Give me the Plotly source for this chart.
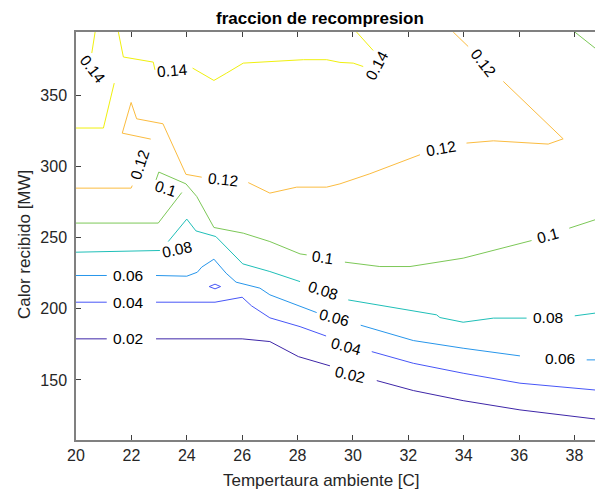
import plotly.graph_objects as go

# Contour levels
levels = [0.02, 0.04, 0.06, 0.08, 0.10, 0.12, 0.14]
level_colors = ["#3e26a8", "#4756f7", "#2796eb", "#1fbfb8", "#7cc857", "#fbbc40", "#f0f00e"]

# Contour line vertices (Tempertaura ambiente [C], Calor recibido [MW]); None = label gap
x_002 = [20, 21.11, None, 22.89, 26.0, 27.0, 28.03, 29.17, None, 30.86, 32.18, 33.98, 36.03, 38.74]
y_002 = [178.9, 178.9, None, 178.9, 178.9, 177.0, 166.4, 159.9, None, 149.5, 142.5, 135.4, 128.9, 122.5]

x_004 = [20, 21.11, None, 22.89, 25.02, 26.0, 26.34, 27.0, 28.09, 29.03, None, 30.68, 32.18, 33.98, 36.03, 38.74]
y_004 = [204.7, 204.7, None, 204.7, 204.7, 208.2, 202.1, 193.7, 187.5, 180.9, None, 169.9, 161.7, 154.7, 147.7, 142.9]

x_004b = [24.81, 25.02, 25.22, 25.02, 24.81]
y_004b = [215.7, 217.4, 215.7, 214.1, 215.7]

x_006 = [20, 21.11, None, 22.89, 24.0, 24.38, 24.54, 24.98, 25.42, 25.78, 26.64, 27.0, 28.09, 28.69,
         None, 30.28, 32.18, 33.98, 36.03, None, 38.44, 38.74]
y_006 = [223.5, 223.5, None, 223.5, 223.0, 225.8, 229.4, 235.0, 225.1, 218.8, 214.6, 209.9, 202.1, 197.4,
         None, 188.5, 177.7, 172.3, 166.9, None, 164.1, 164.1]

x_008 = [20, 22.01, 23.03, None, 23.33, 24.0, 24.33, 25.05, 26.02, 27.0, 28.09, None, 29.83, 33.02,
         33.14, 33.98, 35.07, 36.27, None, 38.01, 38.74]
y_008 = [239.9, 240.8, 241.1, None, 247.4, 263.2, 254.9, 250.9, 231.7, 226.3, 219.2, None, 206.3, 195.8,
         193.9, 190.6, 193.5, 193.5, None, 195.1, 197.0]

x_010 = [20, 22.97, 23.82, None, 22.89, 22.99, 23.97, 24.36, 24.98, 26.04, 27.0, 28.09, 28.33, None,
         29.71, 30.97, 32.06, 33.98, 36.45, None, 37.81, 38.74]
y_010 = [260.4, 260.4, 281.9, None, 290.8, 296.3, 288.0, 279.1, 257.3, 253.3, 247.4, 238.7, 238.0, None,
         232.9, 229.8, 229.8, 235.7, 248.1, None, 256.8, 262.7]

x_010b = [38.01, 38.74]
y_010b = [394.9, 383.6]

x_012 = [20, 21.99, 22.03, None, 22.70, 21.67, 21.99, 22.19, 23.14, 23.97, 24.54, None, 26.22, 27.0,
         27.97, 29.05, 29.53, 30.61, 32.42, None, 34.1, 35.07, 37.05, 37.59, 35.43, None, 34.16, 33.62]
y_012 = [285.0, 285.0, 286.8, None, 319.5, 323.7, 345.3, 333.8, 330.3, 294.7, 292.7, None, 288.9, 281.5,
         285.7, 285.7, 288.0, 295.1, 308.5, None, 316.7, 318.3, 316.0, 319.7, 360.1, None, 384.7, 394.9]

x_014a = [20.69, 20.57, None, 21.38, 20.99, 20]
y_014a = [394.9, 380.1, None, 358.9, 327.3, 327.3]

x_014b = [21.53, 21.71, 22.79, 22.85, None, 24.21, 24.98, 25.44, 26.04, 28.21, 29.05, 29.53, 30.01,
          30.37, None, 30.73, 30.13]
y_014b = [394.9, 377.3, 373.7, 368.3, None, 369.5, 360.8, 366.0, 373.0, 375.4, 375.4, 373.5, 373.0,
          370.6, None, 381.9, 394.9]

# Contour labels: text, x, y, angle
label_text = ["0.14", "0.14", "0.14", "0.12", "0.12", "0.12", "0.12",
              "0.1", "0.1", "0.1", "0.08", "0.08", "0.08",
              "0.06", "0.06", "0.06", "0.04", "0.04", "0.02", "0.02"]
label_x = [20.61, 23.48, 30.87, 34.69, 22.31, 25.31, 33.18,
           23.24, 28.93, 37.05, 23.64, 28.93, 37.05,
           21.89, 29.31, 37.47, 21.89, 29.77, 21.89, 29.89]
label_y = [368.3, 367.6, 371.1, 373.2, 301.4, 290.8, 312.7,
           285.0, 236.3, 251.5, 241.5, 212.8, 194.0,
           223.2, 193.7, 165.3, 204.2, 173.5, 178.9, 154.1]
label_angle = [52, -5, -62, 52, -72, 6, -10,
               18, 8, -15, -12, 18, 0,
               0, 15, 0, 0, 15, 0, 13]

x_ticks = [20, 22, 24, 26, 28, 30, 32, 34, 36, 38]
y_ticks = [150, 200, 250, 300, 350]

FONT = "Liberation Sans, Arial, sans-serif"

series = [
    (x_002, y_002, 0), (x_004, y_004, 1), (x_004b, y_004b, 1), (x_006, y_006, 2),
    (x_008, y_008, 3), (x_010, y_010, 4), (x_010b, y_010b, 4), (x_012, y_012, 5),
    (x_014a, y_014a, 6), (x_014b, y_014b, 6),
]

fig = go.Figure()
for xs, ys, li in series:
    fig.add_trace(go.Scatter(x=xs, y=ys, mode="lines", connectgaps=False,
                             line=dict(color=level_colors[li], width=1),
                             showlegend=False, hoverinfo="skip"))

for t, lx, ly, ang in zip(label_text, label_x, label_y, label_angle):
    fig.add_annotation(x=lx, y=ly, text=t, showarrow=False, textangle=ang,
                       font=dict(family=FONT, size=15.5, color="#000000"))

axis_common = dict(showgrid=False, zeroline=False, showline=True, linecolor="#808080", linewidth=1.5,
                   ticks="inside", ticklen=5, tickcolor="#404040",
                   tickfont=dict(family=FONT, size=16, color="#262626"))

fig.update_xaxes(range=[20, 38.74], tickvals=x_ticks, mirror="ticks", **axis_common)
fig.update_yaxes(range=[107.7, 394.9], tickvals=y_ticks, mirror=False, ticklabelstandoff=4, **axis_common)

fig.add_annotation(xref="paper", yref="paper", x=0.47, y=1.0, yanchor="middle", yshift=14,
                   text="<b>fraccion de recompresion</b>",
                   showarrow=False, font=dict(family=FONT, size=17, color="#000000"))
fig.add_annotation(xref="paper", yref="paper", x=0.473, y=0, yanchor="middle", yshift=-40,
                   text="Tempertaura ambiente [C]",
                   showarrow=False, font=dict(family=FONT, size=17, color="#262626"))
fig.add_annotation(xref="paper", yref="paper", x=0, xanchor="center", xshift=-51, y=0.478,
                   yanchor="middle", text="Calor recibido [MW]",
                   textangle=-90, showarrow=False,
                   font=dict(family=FONT, size=17, color="#262626"))

fig.update_layout(width=595, height=496, margin=dict(l=76, r=0, t=32, b=56),
                  plot_bgcolor="white", paper_bgcolor="white")

fig.write_html("out.html")
